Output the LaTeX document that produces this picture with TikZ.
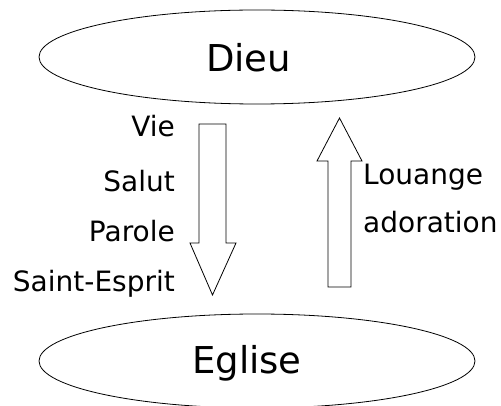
\documentclass[tikz,border=0pt]{standalone}
\usepackage{fontspec}
\setmainfont{DejaVu Sans}
\usetikzlibrary{shapes.geometric}
\begin{document}
\begin{tikzpicture}[x=1pt,y=-1pt,
  oval/.style={draw,line width=0.8pt,ellipse,minimum width=436pt,minimum height=94pt,inner sep=0pt},
  lbl/.style={inner sep=0pt,font=\fontsize{28}{30}\selectfont},
  big/.style={inner sep=0pt,font=\fontsize{37}{40}\selectfont},
  arr/.style={draw,line width=0.8pt,line join=miter}]
\useasboundingbox (0,0) rectangle (501,406);
\node[oval] (dieu) at (257,57) {};
\node[oval] (eglise) at (257,361) {};
\node[big,anchor=base west] (tdieu) at (206,72) {Dieu};
\node[big,anchor=base west] (teglise) at (192,373) {Eglise};
\node[lbl,anchor=base east] (vie) at (175,137) {Vie};
\node[lbl,anchor=base east] (salut) at (175,192) {Salut};
\node[lbl,anchor=base east] (parole) at (175,242) {Parole};
\node[lbl,anchor=base east] (esprit) at (175,292) {Saint-Esprit};
\node[lbl,anchor=base west] (louange) at (363,185) {Louange};
\node[lbl,anchor=base west] (ador) at (363,233) {adoration};
\draw[arr] (199,124) -- (226,124) -- (226,243) -- (236,243) -- (212.5,295) -- (190,243) -- (199,243) -- cycle;
\draw[arr] (328,287) -- (351,287) -- (351,161) -- (362,161) -- (339.5,118) -- (317,161) -- (328,161) -- cycle;
\end{tikzpicture}
\end{document}
